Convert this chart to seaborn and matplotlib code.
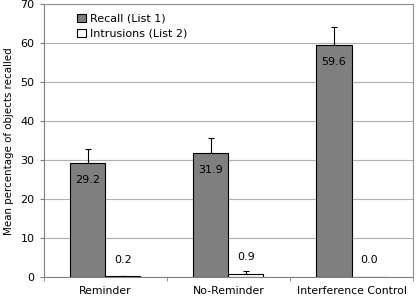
import matplotlib
matplotlib.use("Agg")
import matplotlib.pyplot as plt
import pandas as pd
import seaborn as sns

# Values
conditions = ["Reminder", "No-Reminder", "Interference Control"]
recall = [29.2, 31.9, 59.6]
recall_err = [3.6, 3.8, 4.7]
intrusions = [0.2, 0.9, 0.0]
intrusions_err = [0.1, 0.8, 0.0]
series = ["Recall (List 1)", "Intrusions (List 2)"]

df = pd.DataFrame({
    "condition": conditions * 2,
    "series": [series[0]] * 3 + [series[1]] * 3,
    "value": recall + intrusions,
    "err": recall_err + intrusions_err,
})

sns.set_style("white")
plt.rcParams["font.family"] = ["DejaVu Sans"]
plt.rcParams["font.size"] = 8
plt.rcParams["text.color"] = "black"
plt.rcParams["axes.labelcolor"] = "black"
plt.rcParams["xtick.labelcolor"] = "black"
plt.rcParams["ytick.labelcolor"] = "black"

fig, ax = plt.subplots(figsize=(4.16, 2.98), dpi=100)
fig.subplots_adjust(left=0.105, right=0.993, top=0.985, bottom=0.07)

ax.yaxis.grid(True, color="#b0b0b0", lw=0.8)
ax.set_axisbelow(True)

sns.barplot(data=df, x="condition", y="value", hue="series", order=conditions,
            hue_order=series, palette=["#7f7f7f", "white"], width=0.57,
            edgecolor="black", linewidth=0.8, errorbar=None, ax=ax)

# error bars (upper only) and value labels, placed from the drawn bars
for container, s in zip(ax.containers, series):
    sub = df[df["series"] == s].set_index("condition").loc[conditions]
    for bar, (val, err) in zip(container, zip(sub["value"], sub["err"])):
        xc = bar.get_x() + bar.get_width() / 2
        if err > 0:
            ax.errorbar(xc, val, yerr=[[0], [err]], fmt="none", ecolor="black",
                        elinewidth=0.8, capsize=2.5, capthick=0.8)
        if s == series[0]:
            ax.text(xc, val - 3.0, f"{val:.1f}", ha="center", va="top", fontsize=8)
        else:
            ax.text(xc, val + 3.0, f"{val:.1f}", ha="center", va="bottom", fontsize=8)

ax.set_ylim(0, 70)
ax.set_yticks(range(0, 71, 10))
ax.set_xlim(-0.5, 2.5)
ax.set_xlabel("")
ax.set_ylabel("Mean percentage of objects recalled", fontsize=7.4, labelpad=5)
ax.tick_params(axis="both", labelsize=8, length=3, color="#808080")
ax.tick_params(axis="y", left=True)
ax.tick_params(axis="x", bottom=False, labelsize=7.8)
ax.set_xticks([-0.5, 0.5, 1.5, 2.5], minor=True)
ax.tick_params(axis="x", which="minor", bottom=True, length=3, color="#808080")

for side in ["top", "right"]:
    ax.spines[side].set_color("#909090")
for side in ["left", "bottom"]:
    ax.spines[side].set_color("#808080")

ax.legend(loc="upper left", bbox_to_anchor=(0.07, 0.995), frameon=False,
          fontsize=8, handlelength=0.8, handleheight=0.8, handletextpad=0.3,
          labelspacing=0.45, borderaxespad=0.3)

plt.savefig("out.png", dpi=100)
